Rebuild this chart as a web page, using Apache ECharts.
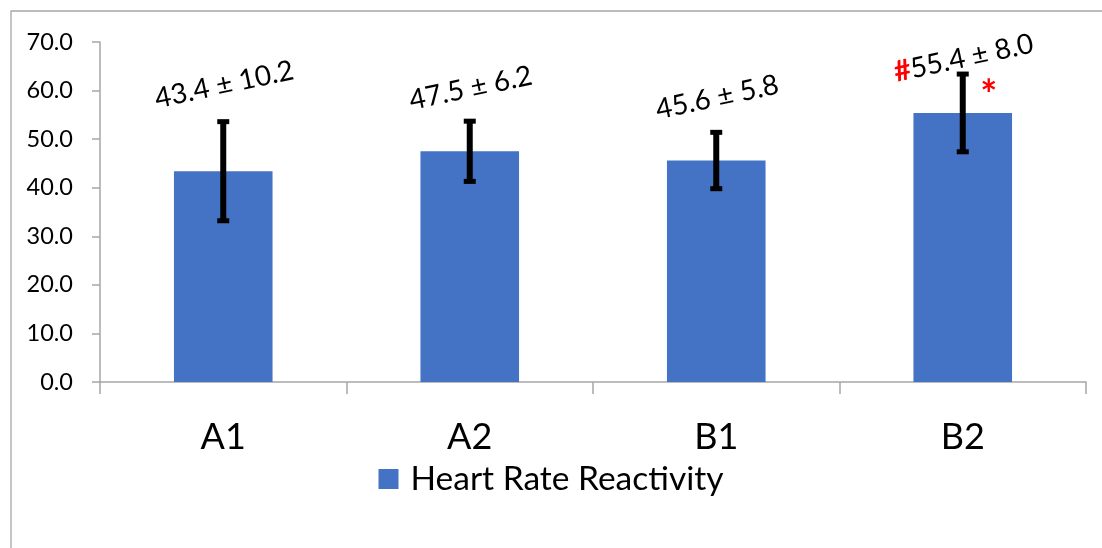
<!DOCTYPE html>
<html>
<head>
<meta charset="utf-8">
<script src="https://cdn.jsdelivr.net/npm/echarts@6/dist/echarts.min.js"></script>
<style>
html,body{margin:0;padding:0;background:#fff;}
#chart{width:1102px;height:548px;}
</style>
</head>
<body>
<div id="chart"></div>
<script>
const categories = ['A1', 'A2', 'B1', 'B2'];
const means = [43.4, 47.5, 45.6, 55.4];
const sds = [10.2, 6.2, 5.8, 8.0];
const prefixMarks = ['', '', '', '#'];
const sigMarks = ['', '', '', '*'];
const seriesName = 'Heart Rate Reactivity';
const yTicks = { min: 0, max: 70, interval: 10 };

const FONT = 'Lato, "Open Sans", sans-serif';
const labelLift = [37, 33, 35, 16];

const chart = echarts.init(document.getElementById('chart'), null, { renderer: 'canvas' });

const errData = categories.map((c, i) => [i, means[i] - sds[i], means[i] + sds[i], means[i], sds[i]]);

chart.setOption({
  animation: false,
  backgroundColor: '#fff',
  graphic: [{
    type: 'rect', shape: { x: 11, y: 11, width: 1300, height: 700 },
    style: { fill: 'none', stroke: '#a6a6a6', lineWidth: 1.3 }, z: -1
  }],
  grid: { left: 100, right: 16, top: 42, bottom: 166 },
  legend: {
    data: [seriesName],
    top: 457, left: 'center',
    itemWidth: 20, itemHeight: 20, itemGap: 10,
    icon: 'rect',
    textStyle: { fontFamily: FONT, fontSize: 33.5, color: '#000', padding: [0, 0, 0, 7] }
  },
  xAxis: {
    type: 'category', data: categories, boundaryGap: true,
    axisLine: { lineStyle: { color: '#a6a6a6', width: 1.5 } },
    axisTick: { show: true, length: 12, alignWithLabel: false, lineStyle: { color: '#a6a6a6', width: 1.5 } },
    axisLabel: { fontFamily: FONT, fontSize: 36, color: '#000', margin: 37 },
    splitLine: { show: false }
  },
  yAxis: {
    type: 'value', min: yTicks.min, max: yTicks.max, interval: yTicks.interval,
    axisLine: { show: true, lineStyle: { color: '#a6a6a6', width: 1.5 } },
    axisTick: { show: true, length: 8, lineStyle: { color: '#a6a6a6', width: 1.5 } },
    axisLabel: { fontFamily: FONT, fontSize: 23.5, color: '#000', margin: 27, formatter: v => v.toFixed(1) },
    splitLine: { show: false }
  },
  series: [{
    name: seriesName,
    type: 'bar',
    data: means,
    barWidth: '40%',
    itemStyle: { color: '#4472C4' },
    z: 2
  }, {
    type: 'custom',
    data: errData,
    z: 5,
    renderItem: function (params, api) {
      const i = api.value(0);
      const lo = api.coord([i, api.value(1)]);
      const hi = api.coord([i, api.value(2)]);
      const x = lo[0];
      const capW = 12;
      const idx = params.dataIndex;
      const txt = (prefixMarks[idx] ? '{r|' + prefixMarks[idx] + '}' : '') +
        means[idx].toFixed(1) + ' \u00B1 ' + sds[idx].toFixed(1);
      const children = [
        { type: 'line', shape: { x1: x, y1: hi[1], x2: x, y2: lo[1] }, style: { stroke: '#000', lineWidth: 6 } },
        { type: 'line', shape: { x1: x - capW / 2, y1: hi[1], x2: x + capW / 2, y2: hi[1] }, style: { stroke: '#000', lineWidth: 5 } },
        { type: 'line', shape: { x1: x - capW / 2, y1: lo[1], x2: x + capW / 2, y2: lo[1] }, style: { stroke: '#000', lineWidth: 5 } },
        {
          type: 'text', x: x + 1, y: hi[1] - labelLift[idx], rotation: 12 * Math.PI / 180,
          style: {
            text: txt, fontFamily: FONT, fontSize: 28, fill: '#000',
            align: 'center', verticalAlign: 'middle',
            rich: { r: { fontFamily: FONT, fontSize: 29, fontWeight: 'bold', fill: '#ff0000', color: '#ff0000' } }
          }
        }
      ];
      if (sigMarks[idx]) {
        children.push({
          type: 'text', x: x + 26, y: hi[1] + 22,
          style: { text: sigMarks[idx], fontFamily: FONT, fontSize: 40, fontWeight: 'bold', fill: '#ff0000', align: 'center', verticalAlign: 'middle' }
        });
      }
      return { type: 'group', children: children };
    }
  }]
});
</script>
</body>
</html>
